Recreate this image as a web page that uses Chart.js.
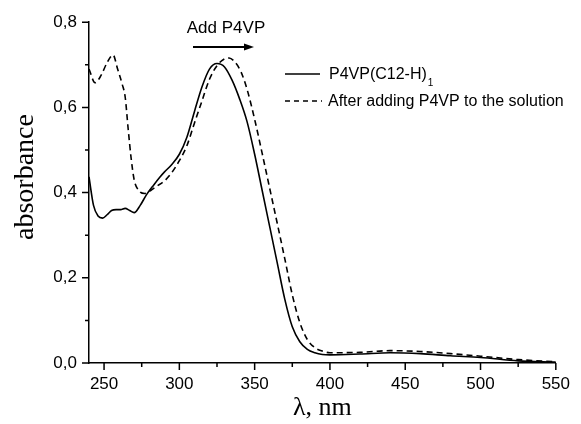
<!DOCTYPE html>
<html>
<head>
<meta charset="utf-8">
<script src="https://cdn.jsdelivr.net/npm/chart.js@4"></script>
<style>
  html, body { margin: 0; padding: 0; background: #fff; }
  #wrap { width: 581px; height: 424px; }
</style>
</head>
<body>
<div id="wrap"><canvas id="myChart" width="581" height="424"></canvas></div>
<script>
// wavelengths (nm) and absorbance
const solidX = [240, 243, 246, 249, 252, 255, 258, 261, 264, 267, 270, 274, 278, 283, 287, 290, 295, 300, 305, 310, 315, 320, 325, 330, 335, 340, 345, 350, 355, 360, 365, 370, 375, 380, 385, 390, 395, 400, 420, 440, 460, 480, 500, 525, 550];
const solidY = [0.437, 0.37, 0.345, 0.34, 0.348, 0.358, 0.36, 0.36, 0.363, 0.358, 0.353, 0.37, 0.394, 0.418, 0.436, 0.448, 0.466, 0.49, 0.53, 0.59, 0.648, 0.69, 0.703, 0.695, 0.664, 0.62, 0.566, 0.49, 0.405, 0.32, 0.235, 0.15, 0.085, 0.05, 0.032, 0.024, 0.02, 0.019, 0.021, 0.024, 0.022, 0.017, 0.013, 0.005, 0.002];

const dashX = [240, 244, 248, 252, 256, 259, 262, 264, 266, 268, 270, 273, 277, 281, 285, 290, 295, 300, 305, 310, 315, 320, 325, 330, 333, 337, 341, 345, 350, 355, 360, 365, 370, 375, 380, 385, 390, 395, 400, 420, 440, 460, 480, 500, 525, 550];
const dashY = [0.69, 0.658, 0.675, 0.705, 0.723, 0.69, 0.655, 0.625, 0.55, 0.48, 0.43, 0.405, 0.398, 0.405, 0.415, 0.427, 0.447, 0.475, 0.51, 0.563, 0.615, 0.666, 0.698, 0.714, 0.716, 0.706, 0.683, 0.642, 0.572, 0.492, 0.41, 0.328, 0.245, 0.16, 0.095, 0.055, 0.036, 0.028, 0.024, 0.025, 0.029, 0.027, 0.022, 0.016, 0.008, 0.003];

const seriesNames = ['P4VP(C12-H)', 'After adding P4VP to the solution'];
const xTicks = [250, 300, 350, 400, 450, 500, 550];
const xMinor = [275, 325, 375, 425, 475, 525];
const yTicks = [0, 0.2, 0.4, 0.6, 0.8];
const yMinor = [0.1, 0.3, 0.5, 0.7];

const sans = '"Liberation Sans", Arial, sans-serif';
const serif = '"Liberation Serif", "Times New Roman", serif';

const toPts = (xs, ys) => xs.map((x, i) => ({ x: x, y: ys[i] }));

// ticks, titles, legend, arrow
const decor = {
  id: 'decor',
  afterDraw(chart) {
    const ctx = chart.ctx;
    const xs = chart.scales.x, ys = chart.scales.y;
    const a = chart.chartArea;
    ctx.save();
    ctx.strokeStyle = '#000';
    ctx.lineWidth = 1.5;
    ctx.beginPath();
    xTicks.forEach(v => { const p = xs.getPixelForValue(v); ctx.moveTo(p, a.bottom); ctx.lineTo(p, a.bottom + 7); });
    xMinor.forEach(v => { const p = xs.getPixelForValue(v); ctx.moveTo(p, a.bottom); ctx.lineTo(p, a.bottom + 4); });
    yTicks.forEach(v => { const p = ys.getPixelForValue(v); ctx.moveTo(a.left, p); ctx.lineTo(a.left - 7, p); });
    yMinor.forEach(v => { const p = ys.getPixelForValue(v); ctx.moveTo(a.left, p); ctx.lineTo(a.left - 4, p); });
    ctx.stroke();

    ctx.fillStyle = '#000';
    // axis titles
    ctx.font = '26px ' + serif;
    ctx.textAlign = 'center';
    ctx.textBaseline = 'alphabetic';
    ctx.fillText('λ, nm', (a.left + a.right) / 2, 415);
    ctx.save();
    ctx.translate(33, 177);
    ctx.rotate(-Math.PI / 2);
    ctx.font = '28px ' + serif;
    ctx.fillText('absorbance', 0, 0);
    ctx.restore();

    // "Add P4VP" with arrow
    ctx.font = '17px ' + sans;
    ctx.textBaseline = 'middle';
    ctx.fillText('Add P4VP', 226, 28);
    ctx.lineWidth = 2;
    ctx.beginPath();
    ctx.moveTo(193, 47);
    ctx.lineTo(246, 47);
    ctx.stroke();
    ctx.beginPath();
    ctx.moveTo(254, 47);
    ctx.lineTo(244, 43.5);
    ctx.lineTo(244, 50.5);
    ctx.closePath();
    ctx.fill();

    // legend
    ctx.lineWidth = 1.5;
    ctx.beginPath();
    ctx.moveTo(285, 74);
    ctx.lineTo(320, 74);
    ctx.stroke();
    ctx.setLineDash([5, 4]);
    ctx.beginPath();
    ctx.moveTo(285, 101);
    ctx.lineTo(322, 101);
    ctx.stroke();
    ctx.setLineDash([]);
    ctx.textAlign = 'left';
    ctx.font = '16px ' + sans;
    ctx.fillText(seriesNames[0], 329, 75);
    const w = ctx.measureText(seriesNames[0]).width;
    ctx.font = '10px ' + sans;
    ctx.fillText('1', 329 + w + 1, 83);
    ctx.font = '16px ' + sans;
    ctx.fillText(seriesNames[1], 328, 102);
    ctx.restore();
  }
};

new Chart(document.getElementById('myChart'), {
  type: 'line',
  data: {
    datasets: [{
      label: seriesNames[0],
      data: toPts(solidX, solidY),
      borderColor: '#000',
      borderWidth: 1.6,
      pointRadius: 0,
      cubicInterpolationMode: 'monotone'
    }, {
      label: seriesNames[1],
      data: toPts(dashX, dashY),
      borderColor: '#000',
      borderWidth: 1.6,
      borderDash: [6, 4],
      pointRadius: 0,
      cubicInterpolationMode: 'monotone'
    }]
  },
  options: {
    responsive: false,
    animation: false,
    layout: { padding: { left: 0, top: 19, right: 24, bottom: 0 } },
    plugins: { legend: { display: false }, tooltip: { enabled: false } },
    scales: {
      x: {
        type: 'linear',
        min: 240,
        max: 550,
        afterBuildTicks: s => { s.ticks = xTicks.map(v => ({ value: v })); },
        afterFit: s => { s.height = 61; },
        grid: { display: false, drawTicks: false },
        border: { display: true, color: '#000', width: 1.5 },
        ticks: { color: '#000', padding: 11, maxRotation: 0, font: { family: sans, size: 17 } }
      },
      y: {
        min: 0,
        max: 0.8,
        afterBuildTicks: s => { s.ticks = yTicks.map(v => ({ value: v })); },
        afterFit: s => { s.width = 89; },
        grid: { display: false, drawTicks: false },
        border: { display: true, color: '#000', width: 1.5 },
        ticks: {
          color: '#000', padding: 12, font: { family: sans, size: 17 },
          callback: v => v.toFixed(1).replace('.', ',')
        }
      }
    }
  },
  plugins: [decor]
});
</script>
</body>
</html>
